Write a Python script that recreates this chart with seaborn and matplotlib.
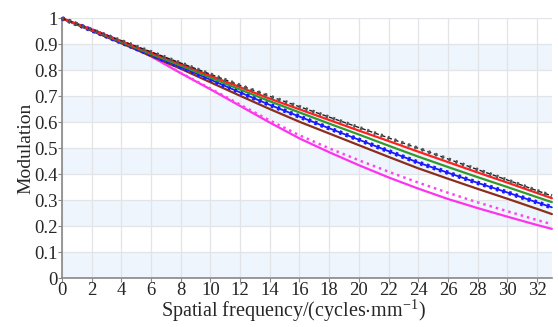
import pandas as pd
import seaborn as sns
from matplotlib import pyplot as plt

freq = [0, 2, 4, 6, 8, 10, 12, 14, 16, 18, 20, 22, 24, 26, 28, 30, 32, 33]

diff_limit = [1, .957, .914, .871, .828, .785, .742, .700, .660, .620, .580, .540, .500, .459, .418, .378, .337, .317]
red_mtf = [1, .956, .912, .868, .824, .779, .735, .691, .650, .609, .568, .528, .487, .447, .407, .368, .328, .308]
green_mtf = [1, .955, .909, .863, .818, .772, .726, .681, .638, .595, .553, .510, .468, .428, .389, .351, .312, .293]
blue_mtf = [1, .954, .907, .860, .813, .764, .715, .667, .622, .577, .533, .489, .445, .406, .367, .330, .292, .273]
brown_mtf = [1, .952, .904, .855, .806, .754, .702, .651, .602, .557, .512, .467, .423, .383, .344, .306, .267, .247]
pink_dot_mtf = [1, .958, .910, .854, .790, .730, .668, .607, .550, .500, .454, .410, .368, .329, .292, .258, .224, .208]
pink_mtf = [1, .958, .910, .854, .789, .727, .663, .599, .538, .485, .435, .388, .345, .305, .270, .237, .205, .190]

xticks = list(range(0, 33, 2))
yticks = [0, 0.1, 0.2, 0.3, 0.4, 0.5, 0.6, 0.7, 0.8, 0.9, 1]
ytick_labels = ['0', '0.1', '0.2', '0.3', '0.4', '0.5', '0.6', '0.7', '0.8', '0.9', '1']

sns.set_style('white')
plt.rcParams['font.family'] = ['Liberation Serif', 'DejaVu Serif']
plt.rcParams['mathtext.fontset'] = 'stix'

fig = plt.figure(figsize=(5.58, 3.27), dpi=100)
ax = fig.add_axes([0.111, 0.149, 0.878, 0.795])

# alternating light blue bands
for lo in [0, 0.2, 0.4, 0.6, 0.8]:
    ax.axhspan(lo, lo + 0.1, color='#eef5fc', zorder=0, lw=0)

ax.set_xticks(xticks)
ax.set_yticks(yticks)
ax.set_yticklabels(ytick_labels)
ax.grid(True, color='#e2e4e8', lw=0.9, zorder=1)
ax.set_axisbelow(True)

# magenta curves
sns.lineplot(x=freq, y=pink_mtf, ax=ax, color='#ff33ee', lw=1.6, zorder=3)
sns.lineplot(x=freq, y=pink_dot_mtf, ax=ax, color='#ff44ee', lw=1.8, zorder=3,
             linestyle=(0, (1, 1.6)))
# brown
sns.lineplot(x=freq, y=brown_mtf, ax=ax, color='#8b2e1e', lw=1.6, zorder=4)
# blue with dense markers
sns.lineplot(x=freq, y=blue_mtf, ax=ax, color='#1a1aff', lw=1.3, zorder=5)
sns.lineplot(x=freq, y=blue_mtf, ax=ax, color='#1a1aff', lw=3.2, zorder=5,
             linestyle=(0, (0.6, 0.9)))
# green
sns.lineplot(x=freq, y=green_mtf, ax=ax, color='#2e9a2e', lw=1.6, zorder=6)
# red
sns.lineplot(x=freq, y=red_mtf, ax=ax, color='#ff2020', lw=1.6, zorder=7)
# black diffraction limit, dashed with dots
sns.lineplot(x=freq, y=diff_limit, ax=ax, color='#222222', lw=1.0, zorder=8,
             linestyle=(0, (3, 2)))
sns.lineplot(x=freq, y=diff_limit, ax=ax, color='#555555', lw=2.6, zorder=8,
             linestyle=(0, (0.6, 1.4)))

for ln in ax.lines:
    ln.set_clip_on(False)

ax.set_xlim(0, 33)
ax.set_ylim(0, 1)

for s in ['top', 'right']:
    ax.spines[s].set_visible(False)
for s in ['left', 'bottom']:
    ax.spines[s].set_color('#888888')
    ax.spines[s].set_linewidth(1.2)

ax.tick_params(axis='both', labelsize=13.5, length=3, color='#888888', pad=0,
               direction='out', bottom=True, left=True)
ax.set_xlabel(r'Spatial frequency/(cycles$\cdot$mm$^{\mathregular{-1}}$)', fontsize=14.5, labelpad=0.5)
ax.xaxis.set_label_coords(0.472, -0.075, transform=ax.transAxes)
ax.xaxis.label.set_va('top')
ax.set_ylabel('Modulation', fontsize=14, labelpad=0)

fig.savefig('out.png', dpi=100, facecolor='white')
